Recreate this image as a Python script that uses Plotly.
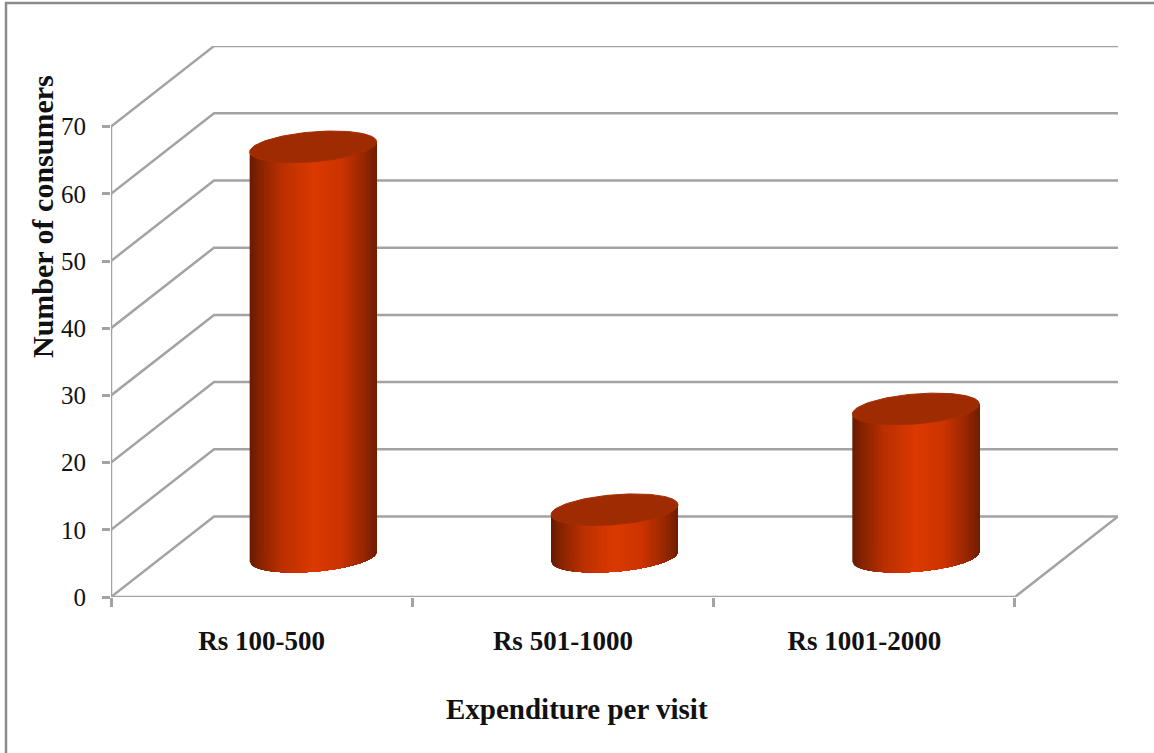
import numpy as np
import plotly.graph_objects as go

categories = ["Rs 100-500", "Rs 501-1000", "Rs 1001-2000"]
consumers = [61, 7, 22]
y_ticks = [0, 10, 20, 30, 40, 50, 60, 70]
x_title = "Expenditure per visit"
y_title = "Number of consumers"

W, H = 1154, 753
L, R, T, B = 111, 1118, 46, 597
X_UNIT = 301.33
Y_UNIT = 6.72
DEPTH_X = 103 / X_UNIT
DEPTH_Y = 80.5 / Y_UNIT
A = 63.5 / X_UNIT
TILT = 5.0 / Y_UNIT
BB = 15.0 / Y_UNIT
GRID = "#a3a3a3"
FONT = "Liberation Serif"

STOPS = [(0, (104, 27, 0)), (0.08, (135, 36, 0)), (0.25, (186, 48, 0)), (0.5, (220, 58, 0)),
         (0.72, (204, 52, 0)), (0.9, (150, 40, 0)), (1, (112, 30, 0))]


def shade(u):
    xs = [s[0] for s in STOPS]
    c = [np.interp(u, xs, [s[1][i] for s in STOPS]) for i in range(3)]
    return "rgb(%d,%d,%d)" % tuple(int(v) for v in c)


fig = go.Figure()


def line(xs, ys):
    fig.add_trace(go.Scatter(x=xs, y=ys, mode="lines", line=dict(color=GRID, width=2.5),
                             hoverinfo="skip", cliponaxis=False))


gx, gy = [], []
for v in y_ticks:
    gx += [0, DEPTH_X, 3 + DEPTH_X, None]
    gy += [v, v + DEPTH_Y, v + DEPTH_Y, None]
line(gx, gy)
line([3, 3 + DEPTH_X], [0, DEPTH_Y])
line([0, 0, None, 0, 3], [y_ticks[0], y_ticks[-1], None, 0, 0])


def front(u, cy):
    return cy + TILT * u - BB * np.sqrt(np.clip(1 - u * u, 0, 1))


N = 100
for i, val in enumerate(consumers):
    cx = i + 0.5 + DEPTH_X / 2
    y0 = DEPTH_Y / 2
    y1 = y0 + val
    us = np.linspace(-1, 1, N + 1)
    for k in range(N):
        col = shade((us[k] + us[k + 1] + 2) / 4)
        rest = us[k:]
        sx = np.concatenate([cx + A * rest, cx + A * rest[::-1]])
        sy = np.concatenate([front(rest, y0), front(rest[::-1], y1)])
        fig.add_trace(go.Scatter(x=sx, y=sy, mode="lines", fill="toself", fillcolor=col,
                                 line=dict(color=col, width=0), hoverinfo="skip"))
    t = np.linspace(0, 2 * np.pi, 121)
    fig.add_trace(go.Scatter(x=cx + A * np.cos(t), y=y1 + TILT * np.cos(t) + BB * np.sin(t),
                             mode="lines", fill="toself", fillcolor="#9f2c00",
                             line=dict(color="#a32e00", width=1), hoverinfo="skip"))

fig.update_layout(
    width=W, height=H, showlegend=False,
    margin=dict(l=L, r=W - R, t=T, b=H - B, pad=0),
    paper_bgcolor="white", plot_bgcolor="white",
    font=dict(family=FONT, color="#111111"),
    xaxis=dict(range=[0, (R - L) / X_UNIT], tickmode="array", tickvals=[0.5, 1.5, 2.5],
               ticktext=categories, ticks="", showgrid=False, zeroline=False, showline=False,
               ticklabelstandoff=25, tickfont=dict(size=27, family=FONT, weight="bold"),
               minor=dict(tickmode="array", tickvals=[0, 1, 2, 3], ticks="outside", ticklen=9,
                          tickwidth=2.5, tickcolor=GRID, showgrid=False)),
    yaxis=dict(range=[0, (B - T) / Y_UNIT], tickmode="array", tickvals=y_ticks, ticks="outside",
               ticklen=8, tickwidth=2.5, tickcolor=GRID, showgrid=False, zeroline=False, showline=False,
               ticklabelstandoff=11, tickfont=dict(size=25, family=FONT)),
    annotations=[
        dict(text=x_title, xref="paper", yref="paper", x=(577 - L) / (R - L), y=(B - 709) / (B - T),
             showarrow=False, xanchor="center", yanchor="middle",
             font=dict(size=29, family=FONT, weight="bold", color="#111111")),
        dict(text=y_title, xref="paper", yref="paper", x=(43 - L) / (R - L), y=(B - 217) / (B - T),
             showarrow=False, textangle=-90, xanchor="center", yanchor="middle",
             font=dict(size=30, family=FONT, weight="bold", color="#111111")),
    ],
    shapes=[dict(type="path", xref="paper", yref="paper",
                 path="M %f %f L %f %f L %f %f" % ((6 - L) / (R - L), -0.5, (6 - L) / (R - L),
                                                   (B - 3) / (B - T), 1.1, (B - 3) / (B - T)),
                 line=dict(color="#8c8c8c", width=2.5))],
)
fig.write_html("out.html", post_script="document.body.style.margin='0'",
               config={"displayModeBar": False})
